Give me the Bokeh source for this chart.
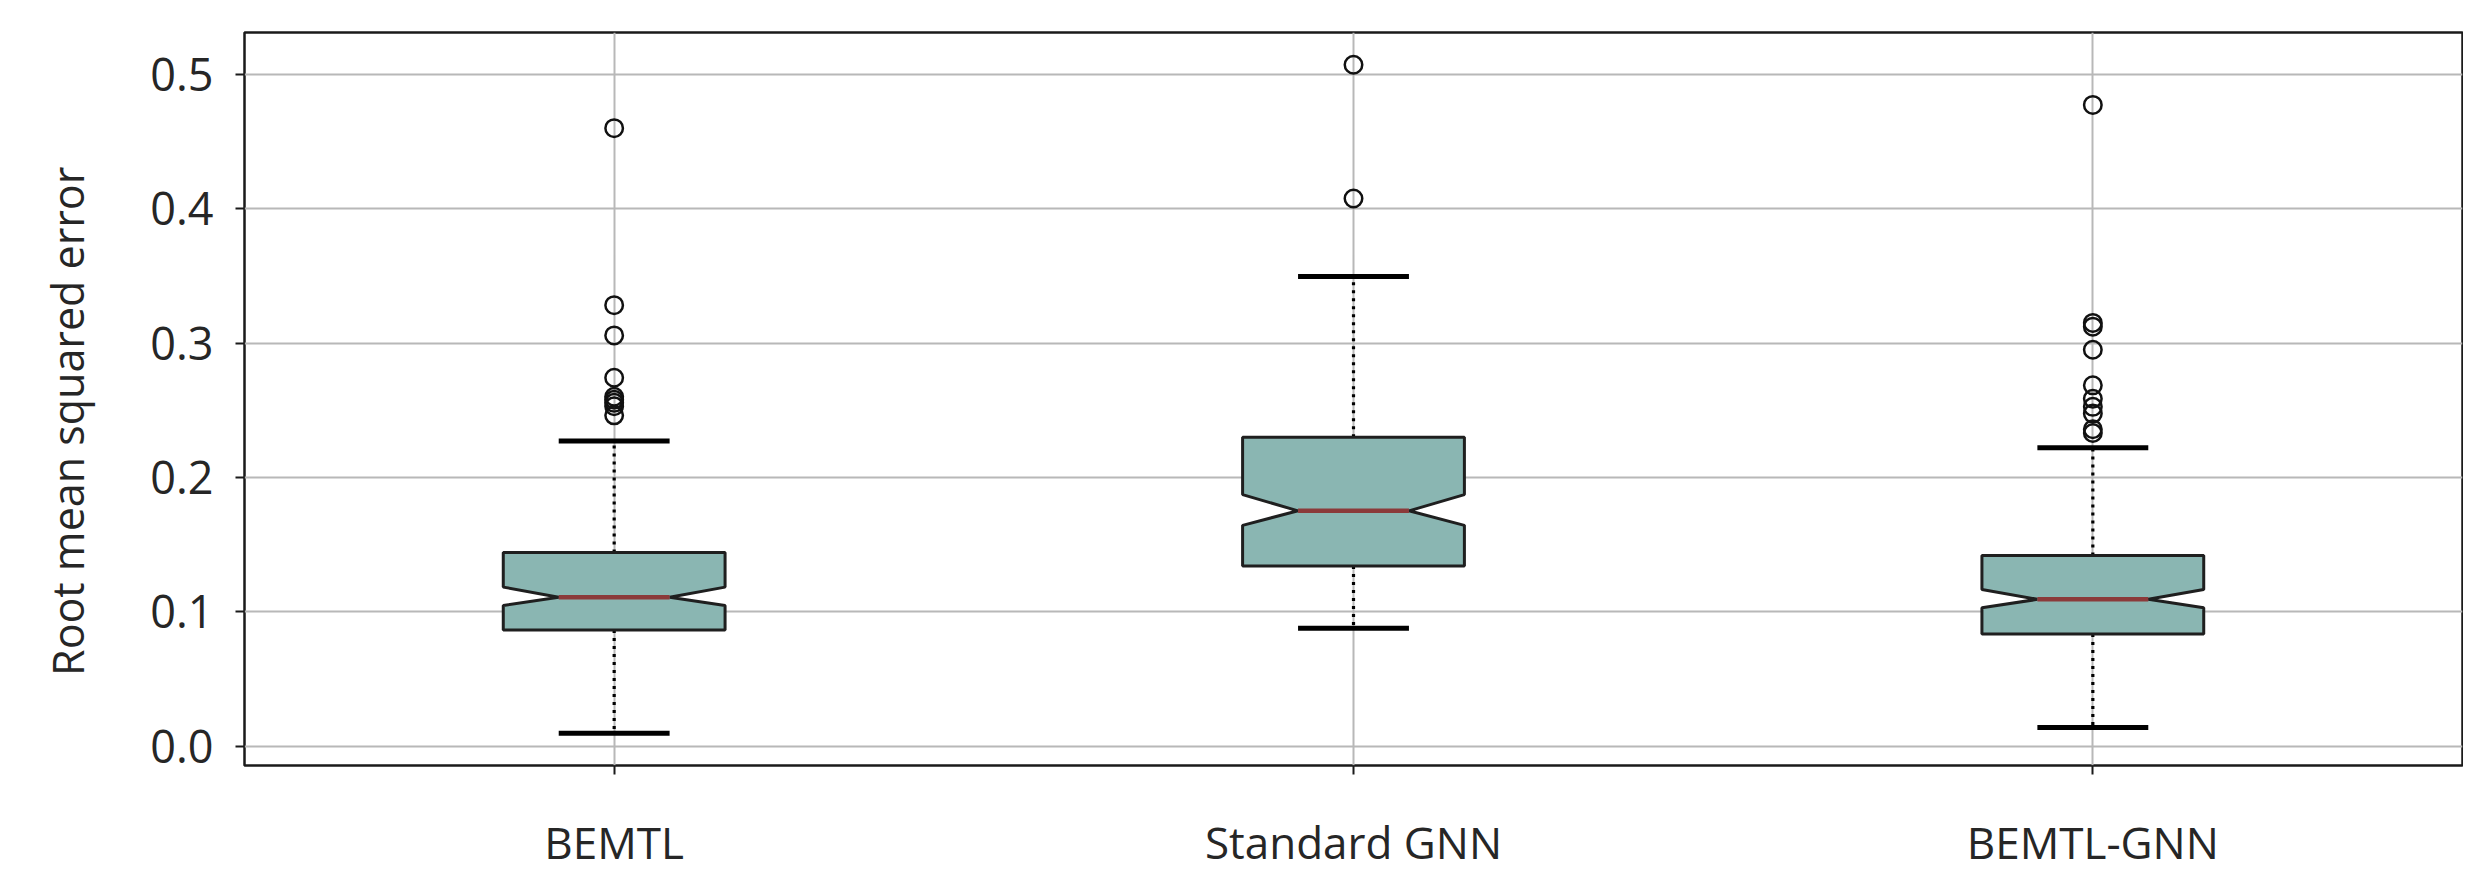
from bokeh.plotting import figure
from bokeh.models import Range1d, FixedTicker, PrintfTickFormatter
from bokeh.embed import file_html
from bokeh.resources import INLINE

# ---------------- data ----------------
categories = ["BEMTL", "Standard GNN", "BEMTL-GNN"]
positions = [1, 2, 3]
whisker_low = [0.0095, 0.0876, 0.0137]
q1 = [0.0863, 0.1340, 0.0834]
notch_low = [0.1046, 0.1643, 0.1029]
median = [0.1108, 0.1751, 0.1092]
notch_high = [0.1183, 0.1872, 0.1166]
q3 = [0.1440, 0.2299, 0.1419]
whisker_high = [0.2270, 0.3495, 0.2220]
outliers_bemtl = [0.4600, 0.3282, 0.3057, 0.2742, 0.2600, 0.2578, 0.2555, 0.2530, 0.2462]
outliers_standard_gnn = [0.5072, 0.4076]
outliers_bemtl_gnn = [0.4773, 0.3150, 0.3122, 0.2950, 0.2685, 0.2585, 0.2525, 0.2475, 0.2358, 0.2330]
outliers = [outliers_bemtl, outliers_standard_gnn, outliers_bemtl_gnn]
y_ticks = [0.0, 0.1, 0.2, 0.3, 0.4, 0.5]
y_label = "Root mean squared error"

# ---------------- style ----------------
BOX_WIDTH = 0.3
FONT = "Open Sans"
TEXT_COLOR = "#262626"
BOX_FILL = "#8ab6b2"
MEDIAN_COLOR = "#8b3a3a"

p = figure(width=2463, height=874, x_range=Range1d(0.5, 3.5), y_range=Range1d(-0.0145, 0.5312),
           output_backend="svg", toolbar_location=None, title=None,
           min_border_left=244, min_border_right=1, min_border_top=32, min_border_bottom=109)
p.background_fill_color = "white"
p.border_fill_color = "white"
p.outline_line_color = "#1a1a1a"
p.outline_line_width = 2.5

# axes
p.xaxis.ticker = FixedTicker(ticks=positions)
p.xaxis.major_label_overrides = {pos: name for pos, name in zip(positions, categories)}
p.xaxis.major_label_text_font = FONT
p.xaxis.major_label_text_font_size = "44px"
p.xaxis.major_label_text_color = TEXT_COLOR
p.xaxis.major_label_standoff = 37

p.yaxis.ticker = FixedTicker(ticks=y_ticks)
p.yaxis.formatter = PrintfTickFormatter(format="%.1f")
p.yaxis.major_label_text_font = FONT
p.yaxis.major_label_text_font_size = "45px"
p.yaxis.major_label_text_color = TEXT_COLOR
p.yaxis.major_label_standoff = 22
p.yaxis.axis_label = y_label + "\u00a0" * 4
p.yaxis.axis_label_text_font = FONT
p.yaxis.axis_label_text_font_size = "43px"
p.yaxis.axis_label_text_font_style = "normal"
p.yaxis.axis_label_text_color = TEXT_COLOR
p.yaxis.axis_label_standoff = 50

for ax in (p.xaxis, p.yaxis):
    ax.axis_line_color = None
    ax.major_tick_in = 0
    ax.major_tick_out = 9
    ax.major_tick_line_color = "#1a1a1a"
    ax.major_tick_line_width = 2
    ax.minor_tick_line_color = None

# grid
p.xgrid.ticker = FixedTicker(ticks=positions)
p.ygrid.ticker = FixedTicker(ticks=y_ticks)
for g in (p.xgrid, p.ygrid):
    g.grid_line_color = "#b8b8b8"
    g.grid_line_width = 2

hw = BOX_WIDTH / 2
nw = BOX_WIDTH / 4

# whiskers (dotted)
p.segment(x0=positions, y0=q3, x1=positions, y1=whisker_high, line_color="black",
          line_width=3.2, line_dash="3 5")
p.segment(x0=positions, y0=q1, x1=positions, y1=whisker_low, line_color="black",
          line_width=3.2, line_dash="3 5")
# caps
p.segment(x0=[c - nw for c in positions], y0=whisker_high, x1=[c + nw for c in positions],
          y1=whisker_high, line_color="black", line_width=5)
p.segment(x0=[c - nw for c in positions], y0=whisker_low, x1=[c + nw for c in positions],
          y1=whisker_low, line_color="black", line_width=5)

# notched boxes
xs, ys = [], []
for c, a, nl, m, nh, b in zip(positions, q1, notch_low, median, notch_high, q3):
    xs.append([c - hw, c + hw, c + hw, c + nw, c + hw, c + hw, c - hw, c - hw, c - nw, c - hw])
    ys.append([a, a, nl, m, nh, b, b, nh, m, nl])
p.patches(xs, ys, fill_color=BOX_FILL, line_color="#1f1f1f", line_width=3)

# medians
p.segment(x0=[c - nw for c in positions], y0=median, x1=[c + nw for c in positions], y1=median,
          line_color=MEDIAN_COLOR, line_width=4.5)

# outliers
ox, oy = [], []
for c, vals in zip(positions, outliers):
    ox += [c] * len(vals)
    oy += vals
p.scatter(ox, oy, marker="circle", size=17.5, fill_color=None, line_color="#111111", line_width=2.5)

open("out.html", "w").write(file_html(p, INLINE))
